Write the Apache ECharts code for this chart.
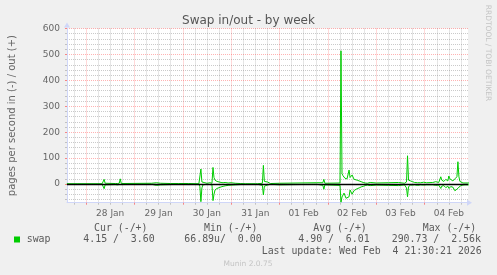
<!DOCTYPE html>
<html><head><meta charset="utf-8">
<script src="https://cdn.jsdelivr.net/npm/echarts@6.0.0/dist/echarts.min.js"></script>
<style>html,body{margin:0;padding:0;background:#F0F0F0}#c{width:497px;height:275px}</style>
</head><body><div id="c"></div>
<script>
// Time in hours since 2026-01-27 00:00 (30-minute RRD steps)
const hours = [14.5, 20, 32, 32.5, 33, 33.5, 34, 38.5, 39, 39.5, 40, 40.5, 41, 41.5, 42,
  56.5, 57, 59, 59.5, 61, 61.5, 66, 66.5, 70, 75, 80, 80.5, 81, 81.5, 82, 83, 84, 85.5, 86.5,
  87, 87.5, 88, 89, 90, 91, 92, 93, 94.5, 96, 98, 100.5, 103, 108, 108.5, 109, 111.5, 112,
  112.5, 113, 114, 114.5, 115.5, 120, 120.5, 138.5, 139, 141.5, 142, 142.5, 143, 150, 150.5,
  151, 151.5, 152, 152.5, 153, 153.5, 154.5, 155, 155.5, 156, 157, 157.5, 158.5, 159.5, 160.5,
  161.5, 162.5, 163.5, 165, 165.5, 168, 168.5, 174, 174.5, 179, 179.5, 182, 182.5, 183, 183.5,
  184, 184.5, 185, 186, 187, 188.5, 190, 191.5, 193, 196, 197.5, 199, 200, 200.5, 201, 201.5,
  202.5, 203.5, 204, 204.5, 205, 206, 207, 207.5, 208, 208.5, 209, 209.5, 210, 211, 212, 213.5, 214];
// swap out (plotted positive)
const swapOut = [1, 1, 1, 5, 18, 3, 1, 2, 8, 2, 6, 3, 20, 2, 1,
  3, 1, 5, 1, 3, 1, 2, 1, 2, 2, 1, 5, 58, 8, 3, 5, 3, 5, 3,
  64, 25, 15, 10, 8, 6, 5, 6, 4, 5, 3, 2, 1, 1, 8, 1, 3, 72,
  10, 4, 8, 6, 2, 3, 1, 5, 1, 5, 18, 3, 1, 4, 514,
  40, 32, 30, 22, 25, 20, 54, 25, 20, 35, 18, 22, 15, 12, 9,
  6, 4, 3, 6, 2, 4, 2, 5, 2, 6, 2, 3, 4, 8, 109,
  15, 20, 12, 9, 6, 5, 5, 7, 5, 6, 9, 6, 28, 15, 22, 10,
  18, 12, 31, 20, 15, 12, 20, 15, 28, 86, 28, 10, 5, 4, 4, 4, 4];
// swap in (plotted negative)
const swapIn = [-1, -1, -1, -4, -18, -3, -1, -2, -8, -3, -5, -2, -6, -2, -1,
  -1, -1, -5, -2, -3, -1, -2, -1, -1, -2, -1, -10, -68, -15, -3, -2, -1, -2, -3,
  -64, -40, -23, -17, -14, -11, -9, -7, -5, -4, -3, -2, -1, -1, -8, -1, -5, -42,
  -8, -3, -4, -3, -1, -3, -1, -1, -1, -5, -20, -3, -1, -5, -70,
  -50, -45, -35, -40, -55, -50, -49, -23, -30, -39, -25, -21, -18, -15, -11,
  -9, -6, -4, -6, -2, -4, -1, -5, -2, -6, -2, -3, -8, -15, -49,
  -10, -5, -4, -4, -3, -5, -3, -4, -3, -3, -5, -4, -17, -8, -12, -6,
  -14, -8, -17, -10, -10, -12, -26, -30, -20, -22, -12, -8, -6, -4, -3, -3, -3];

const viewStart = 14.58, viewEnd = 213.5;   // Jan 27 14:35 .. Feb 4 21:30
const yMin = -72, yMax = 600;
const dayLabels = ['28 Jan', '29 Jan', '30 Jan', '31 Jan', '01 Feb', '02 Feb', '03 Feb', '04 Feb'];
const dayNoonHours = [36, 60, 84, 108, 132, 156, 180, 204];
const midnightHours = [24, 48, 72, 96, 120, 144, 168, 192];
const sixHourTicks = [18, 30, 36, 42, 54, 60, 66, 78, 84, 90, 102, 108, 114, 126, 132, 138,
  150, 156, 162, 174, 180, 186, 198, 204, 210];
const yMajorTicks = [0, 100, 200, 300, 400, 500, 600];
const yMinorTicks = [-60, -40, -20, 20, 40, 60, 80, 120, 140, 160, 180, 220, 240, 260, 280,
  320, 340, 360, 380, 420, 440, 460, 480, 520, 540, 560, 580];
const legendHeaders = ['Cur (-/+)', 'Min (-/+)', 'Avg (-/+)', 'Max (-/+)'];
const legendValues = ['4.15 /  3.60', '66.89u/  0.00', '4.90 /  6.01', '290.73 /  2.56k'];
const lastUpdate = 'Last update: Wed Feb  4 21:30:21 2026';

const FONT = 'DejaVu Sans', MONO = 'DejaVu Sans Mono';
const majorGrid = 'rgba(255,0,0,0.3)';
const minorGrid = 'rgba(128,128,128,0.42)';
const axisCol = '#CFD6F8';
const green = '#00CC00';

const outData = hours.map((h, i) => [h, swapOut[i]]);
const inData = hours.map((h, i) => [h, swapIn[i]]);

const headerX = [94, 204, 313.3, 422.7];
const valueX = [83.3, 184.3, 298.3, 391.7];
function txt(text, x, y, font, fill, align) {
  return {type: 'text', x: x, y: y, silent: true,
    style: {text: text, font: font, fill: fill, textAlign: align || 'left', align: align || 'left',
      textVerticalAlign: 'middle', verticalAlign: 'middle'}};
}
const graphics = [];
legendHeaders.forEach((t, i) => graphics.push(txt(t, headerX[i], 228, '9.9px "' + MONO + '"', '#5a5a5a')));
legendValues.forEach((t, i) => graphics.push(txt(t, valueX[i], 239.5, '9.9px "' + MONO + '"', '#5a5a5a')));
graphics.push(txt(lastUpdate, 261.7, 251, '9.9px "' + MONO + '"', '#5a5a5a'));
graphics.push(txt('Munin 2.0.75', 248, 264, '7.5px "' + FONT + '"', '#c4c4c4', 'center'));
const side = txt('RRDTOOL / TOBI OETIKER', 488, 53, '7.5px "' + FONT + '"', '#c4c4c4', 'center');
side.rotation = -Math.PI / 2;
graphics.push(side);

const chart = echarts.init(document.getElementById('c'), null, {width: 497, height: 275});
chart.setOption({
  backgroundColor: '#F0F0F0',
  animation: false,
  title: {text: 'Swap in/out - by week', left: 'center', top: 10,
    textStyle: {fontFamily: FONT, fontSize: 12, fontWeight: 'normal', color: '#555'}},
  grid: {left: 67, right: 29, top: 28.5, bottom: 72.3, show: true, backgroundColor: '#FFFFFF',
    borderWidth: 0, containLabel: false, outerBoundsMode: 'none'},
  legend: {data: ['swap'], left: 14, top: 233.5, padding: 0, itemWidth: 6, itemHeight: 6, icon: 'rect',
    selectedMode: false,
    textStyle: {fontFamily: MONO, fontSize: 9.9, color: '#5a5a5a', lineHeight: 12, padding: [0, 0, 0, 1.7]}},
  xAxis: [
    {type: 'value', min: viewStart, max: viewEnd, position: 'bottom', z: 1,
      axisLine: {show: true, onZero: false, lineStyle: {color: axisCol, width: 1},
        symbol: ['none', 'triangle'], symbolSize: [6, 5], symbolOffset: [0, 1.5]},
      axisTick: {show: true, customValues: midnightHours, length: 2, lineStyle: {color: 'rgba(255,0,0,0.45)'}},
      axisLabel: {show: true, customValues: dayNoonHours,
        formatter: v => { const i = dayNoonHours.indexOf(v); return i >= 0 ? dayLabels[i] : ''; },
        fontFamily: FONT, fontSize: 9, color: '#666', margin: 6.5},
      splitLine: {show: true, lineStyle: {color: majorGrid, type: [1, 1], width: 1}}},
    {type: 'value', min: viewStart, max: viewEnd, position: 'bottom', z: 0,
      axisLine: {show: false, onZero: false}, axisLabel: {show: false},
      axisTick: {show: true, customValues: sixHourTicks, length: 2, lineStyle: {color: minorGrid}},
      splitLine: {show: true, lineStyle: {color: minorGrid, type: [1, 1], width: 1}}}
  ],
  yAxis: [
    {type: 'value', min: yMin, max: yMax, position: 'left', z: 1,
      name: 'pages per second in (-) / out (+)', nameLocation: 'middle', nameGap: 50, nameRotate: 90,
      nameTextStyle: {fontFamily: FONT, fontSize: 10, color: '#666'},
      axisLine: {show: true, onZero: false, lineStyle: {color: axisCol, width: 1},
        symbol: ['none', 'triangle'], symbolSize: [6, 5], symbolOffset: [0, 3.5]},
      axisTick: {show: true, customValues: yMajorTicks, length: 2, lineStyle: {color: 'rgba(255,0,0,0.45)'}},
      axisLabel: {show: true, customValues: yMajorTicks, fontFamily: FONT, fontSize: 9, color: '#666', margin: 7},
      splitLine: {show: true, lineStyle: {color: majorGrid, type: [1, 1], width: 1}}},
    {type: 'value', min: yMin, max: yMax, position: 'left', offset: 0, z: 0,
      axisLine: {show: false, onZero: false}, axisLabel: {show: false},
      axisTick: {show: true, customValues: yMinorTicks, length: 2, lineStyle: {color: minorGrid}},
      splitLine: {show: true, lineStyle: {color: minorGrid, type: [1, 1], width: 1}}}
  ],
  series: [
    {type: 'line', name: 'swap', xAxisIndex: 0, yAxisIndex: 0, data: outData, showSymbol: false,
      symbol: 'none', clip: true, z: 3, lineStyle: {color: green, width: 1}, itemStyle: {color: green}},
    {type: 'line', name: 'swap', xAxisIndex: 0, yAxisIndex: 0, data: inData, showSymbol: false,
      symbol: 'none', clip: true, z: 3, lineStyle: {color: green, width: 1}, itemStyle: {color: green},
      markLine: {silent: true, symbol: 'none', label: {show: false}, animation: false,
        lineStyle: {color: '#000000', width: 1.3, type: 'solid'}, data: [{yAxis: 0}]}}
  ],
  graphic: graphics
});
</script></body></html>
